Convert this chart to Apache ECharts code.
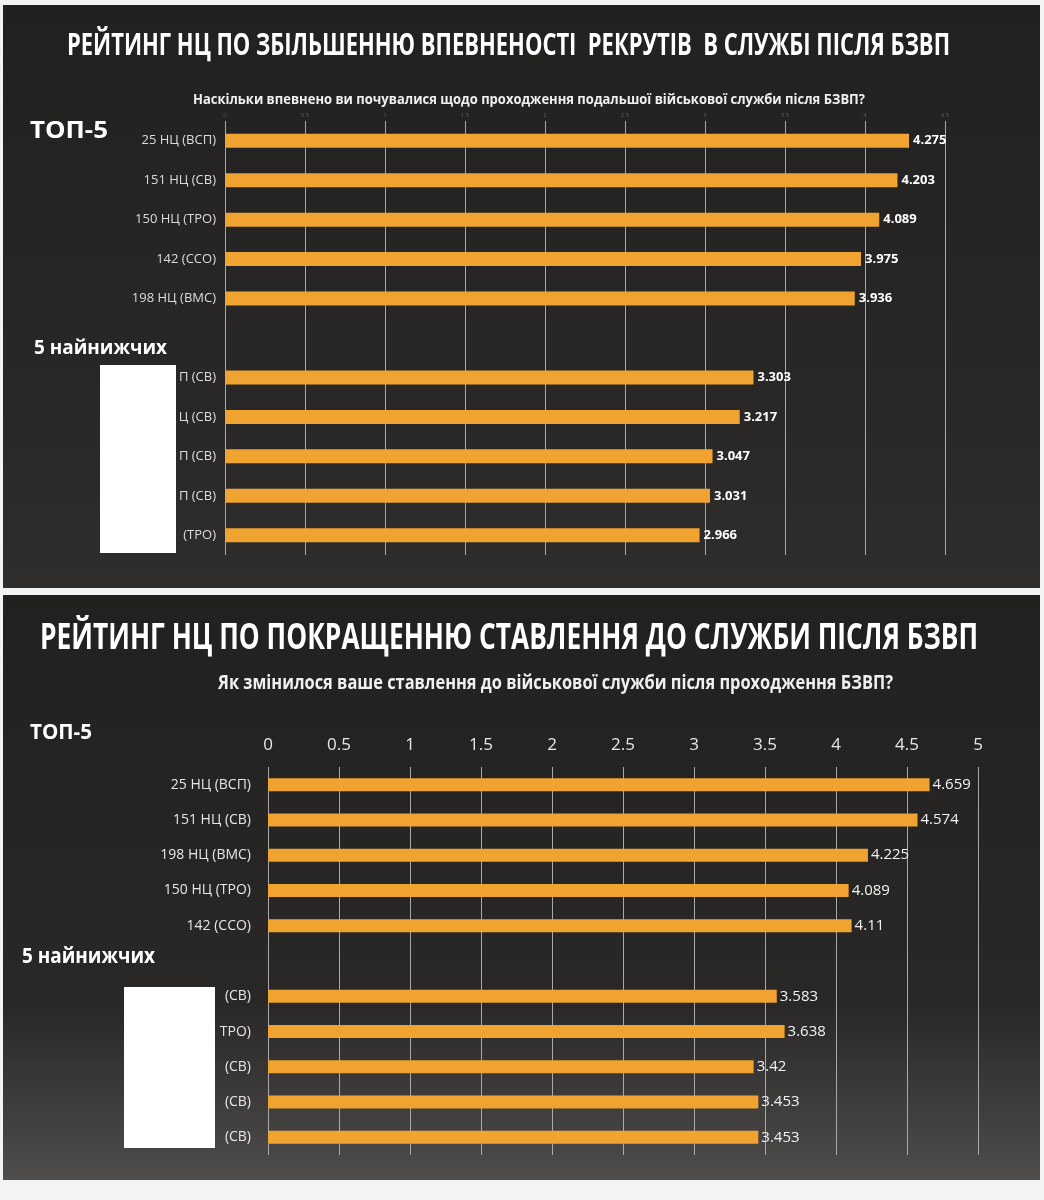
<!DOCTYPE html>
<html>
<head>
<meta charset="utf-8">
<title>Рейтинг НЦ</title>
<script src="https://cdn.jsdelivr.net/npm/echarts@6.0.0/dist/echarts.min.js"></script>
<style>
  html, body { margin: 0; padding: 0; background: #f3f3f3; }
  #main { width: 1044px; height: 1200px; }
</style>
</head>
<body>
<div id="main"></div>
<script>
// верхній графік: впевненість у подальшій службі
var confCats = ['25 НЦ (ВСП)', '151 НЦ (СВ)', '150 НЦ (ТРО)', '142 (ССО)', '198 НЦ (ВМС)', '',
  'П (СВ)', 'Ц (СВ)', 'П (СВ)', 'П (СВ)', '(ТРО)'];
var confValues = [4.275, 4.203, 4.089, 3.975, 3.936, '-', 3.303, 3.217, 3.047, 3.031, 2.966];
var confTicks = ['0', '0.5', '1', '1.5', '2', '2.5', '3', '3.5', '4', '4.5'];

// нижній графік: ставлення до служби
var attCats = ['25 НЦ (ВСП)', '151 НЦ (СВ)', '198 НЦ (ВМС)', '150 НЦ (ТРО)', '142 (ССО)', '',
  '(СВ)', 'ТРО)', '(СВ)', '(СВ)', '(СВ)'];
var attValues = [4.659, 4.574, 4.225, 4.089, 4.11, '-', 3.583, 3.638, 3.42, 3.453, 3.453];
var attTicks = ['0', '0.5', '1', '1.5', '2', '2.5', '3', '3.5', '4', '4.5', '5'];

var sans = '"Open Sans", "Noto Sans", sans-serif';
var orange = '#f0a331';

var chart = echarts.init(document.getElementById('main'));

// стиснутий текст (в оригіналі вузький шрифт) — підганяємо ширину через scaleX
var ctx = document.createElement('canvas').getContext('2d');
function fitText(text, x, y, width, size, color, family) {
  var fam = family || sans;
  ctx.font = 'bold ' + size + 'px ' + fam;
  var w = ctx.measureText(text).width;
  return {
    type: 'text', z: 60, x: x, y: y, scaleX: width / w, scaleY: 1,
    style: {
      text: text, fill: color, fontSize: size, fontWeight: 'bold', fontFamily: fam,
      textAlign: 'left', textVerticalAlign: 'middle', verticalAlign: 'middle'
    }
  };
}

function panelBg(y, h, light) {
  return {
    type: 'rect', z: -10,
    shape: { x: 3, y: y, width: 1037, height: h },
    style: {
      fill: new echarts.graphic.LinearGradient(0, 0, 0, 1, [
        { offset: 0, color: '#212120' },
        { offset: 0.7, color: '#292827' },
        { offset: 1, color: light }
      ])
    }
  };
}

chart.setOption({
  backgroundColor: '#f3f3f3',
  animation: false,
  grid: [
    { left: 225, width: 720, top: 121, height: 434 },
    { left: 268, width: 710, top: 767, height: 388 }
  ],
  xAxis: [
    {
      gridIndex: 0, type: 'value', position: 'top', min: 0, max: 4.5, interval: 0.5,
      axisLine: { show: false }, axisTick: { show: false },
      axisLabel: { color: '#5e5e5e', fontSize: 6, margin: 3, fontFamily: sans,
        formatter: function (v, i) { return confTicks[i]; } },
      splitLine: { lineStyle: { color: '#a9a9a9', width: 1 } }
    },
    {
      gridIndex: 1, type: 'value', position: 'top', min: 0, max: 5, interval: 0.5,
      axisLine: { show: false }, axisTick: { show: false },
      axisLabel: { color: '#e6e6e6', fontSize: 17, margin: 13, fontFamily: sans,
        formatter: function (v, i) { return attTicks[i]; } },
      splitLine: { lineStyle: { color: '#a9a9a9', width: 1 } }
    }
  ],
  yAxis: [
    {
      gridIndex: 0, type: 'category', inverse: true, data: confCats,
      axisLine: { show: false }, axisTick: { show: false },
      axisLabel: { color: '#dcdcdc', fontSize: 13, margin: 9, fontFamily: sans }
    },
    {
      gridIndex: 1, type: 'category', inverse: true, data: attCats,
      axisLine: { show: false }, axisTick: { show: false },
      axisLabel: { color: '#e6e6e6', fontSize: 14, margin: 17, fontFamily: sans }
    }
  ],
  series: [
    {
      type: 'bar', xAxisIndex: 0, yAxisIndex: 0, data: confValues, barWidth: 14,
      itemStyle: { color: orange },
      label: { show: true, position: 'right', distance: 4, color: '#fff',
        fontSize: 13, fontWeight: 'bold', fontFamily: sans }
    },
    {
      type: 'bar', xAxisIndex: 1, yAxisIndex: 1, data: attValues, barWidth: 13,
      itemStyle: { color: orange },
      label: { show: true, position: 'right', distance: 3, color: '#f2f2f2',
        fontSize: 15, fontFamily: sans }
    }
  ],
  graphic: [
    panelBg(5, 583, '#2f2e2d'),
    panelBg(595, 585, '#4e4d4c'),
    { type: 'rect', z: 50, shape: { x: 100, y: 365, width: 76, height: 188 }, style: { fill: '#fff' } },
    { type: 'rect', z: 50, shape: { x: 124, y: 987, width: 91, height: 161 }, style: { fill: '#fff' } },
    fitText('РЕЙТИНГ НЦ ПО ЗБІЛЬШЕННЮ ВПЕВНЕНОСТІ  РЕКРУТІВ  В СЛУЖБІ ПІСЛЯ БЗВП', 67, 46, 883, 31, '#fff'),
    fitText('Наскільки впевнено ви почувалися щодо проходження подальшої військової служби після БЗВП?', 193, 100, 672, 14, '#f0f0f0'),
    fitText('ТОП-5', 30, 131, 78, 24, '#fff'),
    fitText('5 найнижчих', 34, 349, 133, 19, '#fff'),
    fitText('РЕЙТИНГ НЦ ПО ПОКРАЩЕННЮ СТАВЛЕННЯ ДО СЛУЖБИ ПІСЛЯ БЗВП', 40, 639, 938, 35, '#fff'),
    fitText('Як змінилося ваше ставлення до військової служби після проходження БЗВП?', 218, 684, 675, 19, '#f0f0f0'),
    fitText('ТОП-5', 30, 733, 62, 22, '#fff'),
    fitText('5 найнижчих', 22, 957, 133, 21, '#fff')
  ]
});
</script>
</body>
</html>
